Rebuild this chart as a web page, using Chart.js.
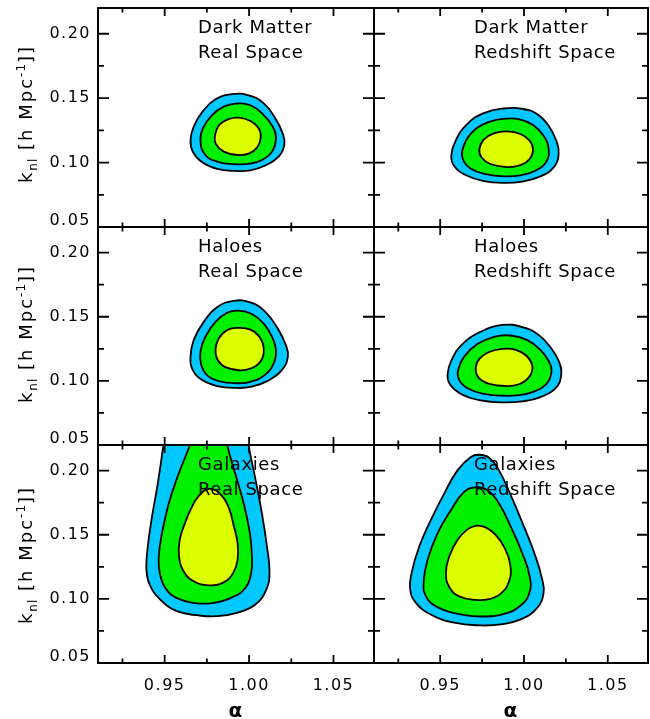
<!DOCTYPE html>
<html><head><meta charset="utf-8">
<script src="https://cdn.jsdelivr.net/npm/chart.js@4.4.0/dist/chart.umd.min.js"></script>
<style>
html,body{margin:0;padding:0;background:#fff;}
#wrap{position:relative;width:650px;height:719px;overflow:hidden;background:#fff;}
#wrap canvas{position:absolute;left:0;top:0;}
.ytitle{position:absolute;font-family:'DejaVu Sans';font-size:18px;letter-spacing:2px;white-space:nowrap;line-height:1;color:#000;transform:translate(-50%,-50%) rotate(-90deg);}
.ytitle sub,.ytitle sup{font-size:12px;line-height:0;letter-spacing:1px;}
</style></head><body>
<div id="wrap"></div>
<script>
// ---- axes ----
const X_MIN = 0.9105, X_MAX = 1.0740;
const Y_MIN = 0.05, Y_MAX = 0.22;
const X_MAJOR = [0.95, 1.00, 1.05];
const X_MINOR = [0.925, 0.975, 1.025];
const X_TICK_LABELS = ['0.95', '1.00', '1.05'];
const Y_MAJOR = [0.05, 0.10, 0.15, 0.20];
const Y_MINOR = [0.075, 0.125, 0.175];
const Y_TICK_LABELS = ['0.05', '0.10', '0.15', '0.20'];
const X_TITLE = 'α';
const PANEL_TITLES = [
  ['Dark Matter', 'Real Space'], ['Dark Matter', 'Redshift Space'],
  ['Haloes', 'Real Space'], ['Haloes', 'Redshift Space'],
  ['Galaxies', 'Real Space'], ['Galaxies', 'Redshift Space']
];
const LEVELS = ['inner', 'middle', 'outer'];

// ---- contours: [alpha, k_nl] ----
const DM_REAL_OUTER = [[0.9919,0.0935],[0.9810,0.0951],[0.9722,0.1002],[0.9666,0.1085],[0.9653,0.1175],[0.9672,0.1279],[0.9721,0.1390],[0.9801,0.1491],[0.9899,0.1532],[0.9998,0.1522],[1.0087,0.1460],[1.0156,0.1343],[1.0199,0.1227],[1.0209,0.1137],[1.0175,0.1046],[1.0096,0.0977],[1.0008,0.0940]];
const DM_REAL_MID = [[0.9919,0.0987],[0.9810,0.1008],[0.9741,0.1059],[0.9712,0.1163],[0.9726,0.1266],[0.9781,0.1369],[0.9850,0.1434],[0.9919,0.1458],[1.0008,0.1445],[1.0087,0.1369],[1.0140,0.1279],[1.0159,0.1188],[1.0136,0.1085],[1.0077,0.1020],[1.0008,0.0992]];
const DM_REAL_INNER = [[0.9929,0.1059],[0.9850,0.1085],[0.9804,0.1142],[0.9797,0.1201],[0.9820,0.1287],[0.9879,0.1338],[0.9939,0.1349],[1.0008,0.1323],[1.0057,0.1266],[1.0069,0.1194],[1.0047,0.1116],[0.9998,0.1070]];

const DM_RSD_OUTER = [[0.9879,0.0842],[0.9760,0.0857],[0.9651,0.0904],[0.9582,0.0976],[0.9566,0.1054],[0.9592,0.1170],[0.9661,0.1299],[0.9760,0.1384],[0.9879,0.1420],[0.9988,0.1418],[1.0078,0.1377],[1.0147,0.1286],[1.0193,0.1170],[1.0207,0.1066],[1.0177,0.0963],[1.0098,0.0893],[0.9988,0.0852]];
const DM_RSD_MID = [[0.9889,0.0893],[0.9770,0.0911],[0.9681,0.0955],[0.9635,0.1028],[0.9637,0.1118],[0.9681,0.1222],[0.9760,0.1299],[0.9869,0.1338],[0.9969,0.1338],[1.0054,0.1291],[1.0117,0.1209],[1.0147,0.1105],[1.0133,0.1007],[1.0068,0.0937],[0.9979,0.0901]];
const DM_RSD_INNER = [[0.9899,0.0965],[0.9800,0.0989],[0.9746,0.1041],[0.9734,0.1105],[0.9760,0.1178],[0.9820,0.1227],[0.9899,0.1242],[0.9979,0.1222],[1.0034,0.1170],[1.0054,0.1100],[1.0034,0.1028],[0.9979,0.0981]];

const HALO_REAL_OUTER = [[0.9919,0.0945],[0.9810,0.0960],[0.9722,0.1006],[0.9666,0.1086],[0.9653,0.1189],[0.9672,0.1318],[0.9731,0.1460],[0.9810,0.1575],[0.9909,0.1624],[1.0008,0.1612],[1.0096,0.1538],[1.0170,0.1409],[1.0218,0.1279],[1.0230,0.1189],[1.0195,0.1086],[1.0110,0.1000],[1.0017,0.0955]];
const HALO_REAL_MID = [[0.9919,0.0982],[0.9820,0.0999],[0.9751,0.1045],[0.9716,0.1128],[0.9712,0.1228],[0.9741,0.1344],[0.9801,0.1460],[0.9870,0.1531],[0.9939,0.1548],[1.0017,0.1522],[1.0087,0.1447],[1.0136,0.1344],[1.0159,0.1241],[1.0146,0.1137],[1.0092,0.1045],[1.0008,0.0993]];
const HALO_REAL_INNER = [[0.9948,0.1082],[0.9860,0.1107],[0.9814,0.1163],[0.9801,0.1241],[0.9820,0.1331],[0.9870,0.1396],[0.9935,0.1413],[1.0008,0.1400],[1.0061,0.1344],[1.0087,0.1254],[1.0073,0.1163],[1.0021,0.1102]];

const HALO_RSD_OUTER = [[0.9881,0.0832],[0.9742,0.0848],[0.9623,0.0899],[0.9560,0.0969],[0.9544,0.1047],[0.9568,0.1163],[0.9633,0.1287],[0.9742,0.1383],[0.9871,0.1436],[0.9990,0.1420],[1.0089,0.1357],[1.0163,0.1253],[1.0209,0.1150],[1.0222,0.1047],[1.0189,0.0943],[1.0099,0.0874],[0.9990,0.0840]];
const HALO_RSD_MID = [[0.9881,0.0884],[0.9762,0.0899],[0.9663,0.0943],[0.9613,0.1008],[0.9607,0.1085],[0.9643,0.1189],[0.9722,0.1287],[0.9822,0.1344],[0.9921,0.1354],[1.0020,0.1318],[1.0099,0.1240],[1.0149,0.1150],[1.0163,0.1060],[1.0129,0.0969],[1.0050,0.0912],[0.9970,0.0889]];
const HALO_RSD_INNER = [[0.9891,0.0960],[0.9792,0.0977],[0.9732,0.1021],[0.9712,0.1091],[0.9732,0.1168],[0.9792,0.1225],[0.9871,0.1250],[0.9951,0.1242],[1.0016,0.1194],[1.0050,0.1111],[1.0030,0.1029],[0.9970,0.0974]];

const GAL_REAL_OUTER = [[0.9701,0.0871],[0.9573,0.0904],[0.9474,0.0995],[0.9411,0.1111],[0.9392,0.1227],[0.9400,0.1408],[0.9425,0.1641],[0.9459,0.1899],[0.9492,0.2196],[0.9510,0.2390],[0.9593,0.2597],[0.9751,0.2674],[0.9909,0.2597],[0.9985,0.2390],[0.9998,0.2196],[1.0035,0.1951],[1.0076,0.1667],[1.0106,0.1408],[1.0121,0.1201],[1.0102,0.1072],[1.0037,0.0956],[0.9928,0.0891],[0.9810,0.0865]];
const GAL_REAL_MID = [[0.9682,0.0967],[0.9573,0.1006],[0.9504,0.1085],[0.9471,0.1201],[0.9465,0.1330],[0.9484,0.1511],[0.9524,0.1744],[0.9583,0.1977],[0.9648,0.2196],[0.9682,0.2364],[0.9761,0.2493],[0.9849,0.2364],[0.9871,0.2196],[0.9918,0.1977],[0.9968,0.1744],[1.0005,0.1511],[1.0017,0.1330],[1.0012,0.1201],[0.9978,0.1085],[0.9889,0.1006],[0.9780,0.0967]];
const GAL_REAL_INNER = [[0.9761,0.1106],[0.9672,0.1137],[0.9613,0.1214],[0.9585,0.1331],[0.9589,0.1460],[0.9620,0.1589],[0.9655,0.1700],[0.9700,0.1800],[0.9765,0.1858],[0.9835,0.1810],[0.9880,0.1710],[0.9908,0.1576],[0.9932,0.1434],[0.9932,0.1305],[0.9905,0.1201],[0.9849,0.1129]];

const GAL_RSD_OUTER = [[0.9742,0.0793],[0.9583,0.0814],[0.9444,0.0878],[0.9355,0.0969],[0.9321,0.1072],[0.9329,0.1201],[0.9375,0.1408],[0.9444,0.1615],[0.9524,0.1821],[0.9603,0.2002],[0.9683,0.2106],[0.9732,0.2124],[0.9792,0.2101],[0.9851,0.2002],[0.9921,0.1809],[1.0000,0.1563],[1.0069,0.1331],[1.0109,0.1150],[1.0117,0.1046],[1.0079,0.0930],[0.9980,0.0840],[0.9861,0.0801]];
const GAL_RSD_MID = [[0.9722,0.0863],[0.9583,0.0889],[0.9474,0.0943],[0.9415,0.1020],[0.9401,0.1124],[0.9425,0.1305],[0.9484,0.1511],[0.9564,0.1692],[0.9643,0.1834],[0.9712,0.1870],[0.9782,0.1847],[0.9851,0.1744],[0.9921,0.1563],[0.9990,0.1356],[1.0034,0.1176],[1.0032,0.1046],[0.9980,0.0948],[0.9881,0.0884]];
const GAL_RSD_INNER = [[0.9712,0.0992],[0.9613,0.1020],[0.9554,0.1093],[0.9534,0.1201],[0.9554,0.1331],[0.9603,0.1460],[0.9663,0.1542],[0.9712,0.1570],[0.9771,0.1558],[0.9831,0.1499],[0.9885,0.1395],[0.9918,0.1266],[0.9911,0.1137],[0.9861,0.1041],[0.9792,0.0998]];

const PANEL_CONTOURS = [
  [DM_REAL_INNER, DM_REAL_MID, DM_REAL_OUTER],
  [DM_RSD_INNER, DM_RSD_MID, DM_RSD_OUTER],
  [HALO_REAL_INNER, HALO_REAL_MID, HALO_REAL_OUTER],
  [HALO_RSD_INNER, HALO_RSD_MID, HALO_RSD_OUTER],
  [GAL_REAL_INNER, GAL_REAL_MID, GAL_REAL_OUTER],
  [GAL_RSD_INNER, GAL_RSD_MID, GAL_RSD_OUTER]
];

// ---- styling / layout ----
const FONT = "'DejaVu Sans'";
const LEVEL_COLORS = {inner: '#dcff00', middle: '#00f000', outer: '#00c8ff'};
const COL_EDGES = [[98, 374], [374, 648]];
const ROW_EDGES = [[8, 227], [227, 445], [445, 663]];
const YTITLE_CENTERS = [114, 334, 555];
const W = 650, H = 719;
const TICK = {xMajor: 8, xMinor: 4.5, yMajor: 11, yMinor: 6};

const loopPlugin = {
  id: 'closedLoop',
  afterDatasetUpdate(chart, args) {
    const line = args.meta.dataset;
    if (line) { line._loop = true; line._fullLoop = true; }
  }
};

const textSpacing = {
  id: 'textSpacing',
  beforeDraw(chart) { chart.ctx.letterSpacing = '1.5px'; }
};

const framePlugin = {
  id: 'frame',
  afterDatasetsDraw(chart, args, opts) {
    const {ctx, chartArea: a, scales: {x, y}} = chart;
    ctx.save();
    ctx.strokeStyle = '#000';
    ctx.lineWidth = 1.8;
    ctx.beginPath();
    const vt = (vals, len) => vals.forEach(v => {
      const px = x.getPixelForValue(v);
      ctx.moveTo(px, a.bottom); ctx.lineTo(px, a.bottom - len);
      ctx.moveTo(px, a.top); ctx.lineTo(px, a.top + len);
    });
    const ht = (vals, len) => vals.forEach(v => {
      const py = y.getPixelForValue(v);
      ctx.moveTo(a.left, py); ctx.lineTo(a.left + len, py);
      ctx.moveTo(a.right, py); ctx.lineTo(a.right - len, py);
    });
    vt(X_MAJOR, TICK.xMajor); vt(X_MINOR, TICK.xMinor);
    ht(Y_MAJOR, TICK.yMajor); ht(Y_MINOR, TICK.yMinor);
    ctx.stroke();
    ctx.lineWidth = 2;
    ctx.strokeRect(a.left, a.top, a.right - a.left, a.bottom - a.top);
    // panel label
    ctx.fillStyle = '#000';
    ctx.font = '18px ' + FONT;
    ctx.letterSpacing = '0.6px';
    ctx.textAlign = 'left';
    ctx.textBaseline = 'middle';
    opts.lines.forEach((t, i) => ctx.fillText(t, a.left + 100, a.top + 20 + i * 25));
    ctx.restore();
  }
};

const wrap = document.getElementById('wrap');

PANEL_CONTOURS.forEach((contours, idx) => {
  const row = Math.floor(idx / 2), col = idx % 2;
  const [left, right] = COL_EDGES[col];
  const [top, bottom] = ROW_EDGES[row];
  const showY = col === 0, showX = row === 2;
  const canvas = document.createElement('canvas');
  canvas.width = W; canvas.height = H;
  canvas.style.width = W + 'px'; canvas.style.height = H + 'px';
  wrap.appendChild(canvas);

  const datasets = contours.map((c, i) => ({
    label: LEVELS[i],
    data: c.map(([a, k]) => ({x: a, y: k})),
    fill: 'shape',
    backgroundColor: LEVEL_COLORS[LEVELS[i]],
    borderColor: '#000',
    borderWidth: 1.8,
    pointRadius: 0,
    pointHoverRadius: 0,
    tension: 0.45
  }));

  new Chart(canvas, {
    type: 'line',
    data: {datasets},
    options: {
      responsive: false, animation: false, devicePixelRatio: 1, events: [],
      layout: {padding: {left: showY ? 0 : left, right: W - right, top: top, bottom: showX ? 0 : H - bottom}},
      elements: {line: {capBezierPoints: false}},
      plugins: {legend: {display: false}, tooltip: {enabled: false}, frame: {lines: PANEL_TITLES[idx]}},
      scales: {
        x: {
          type: 'linear', min: X_MIN, max: X_MAX, display: showX, position: 'bottom',
          grid: {display: false, drawTicks: false}, border: {display: false},
          afterBuildTicks: s => { s.ticks = X_MAJOR.map(v => ({value: v})); },
          ticks: {autoSkip: false, maxRotation: 0, padding: 13, color: '#000',
                  font: {family: FONT, size: 16}, callback: (v, i) => X_TICK_LABELS[i]},
          title: {display: true, text: X_TITLE, color: '#000', padding: 0,
                  font: {family: FONT, size: 20, weight: 'bold', lineHeight: 0.75}},
          afterFit: s => { s.height = showX ? H - bottom : 0; s.paddingLeft = 0; s.paddingRight = 0; }
        },
        y: {
          type: 'linear', min: Y_MIN, max: Y_MAX, display: showY, position: 'left',
          grid: {display: false, drawTicks: false}, border: {display: false},
          afterBuildTicks: s => { s.ticks = Y_MAJOR.map(v => ({value: v})); },
          ticks: {autoSkip: false, padding: 7, color: '#000',
                  font: ctx => ({family: FONT, size: 16, lineHeight: ctx.index === 0 ? '12px' : 1.2}),
                  callback: (v, i) => i === 0 ? [Y_TICK_LABELS[i], ''] : Y_TICK_LABELS[i]},
          afterFit: s => { s.width = showY ? left : 0; s.paddingTop = 0; s.paddingBottom = 0; }
        }
      }
    },
    plugins: [loopPlugin, textSpacing, framePlugin]
  });

  if (showY) {
    const d = document.createElement('div');
    d.className = 'ytitle';
    d.style.left = '26px';
    d.style.top = YTITLE_CENTERS[row] + 'px';
    d.innerHTML = 'k<sub>nl</sub> [h Mpc<sup>-1</sup>]]';
    wrap.appendChild(d);
  }
});
</script>
</body></html>
